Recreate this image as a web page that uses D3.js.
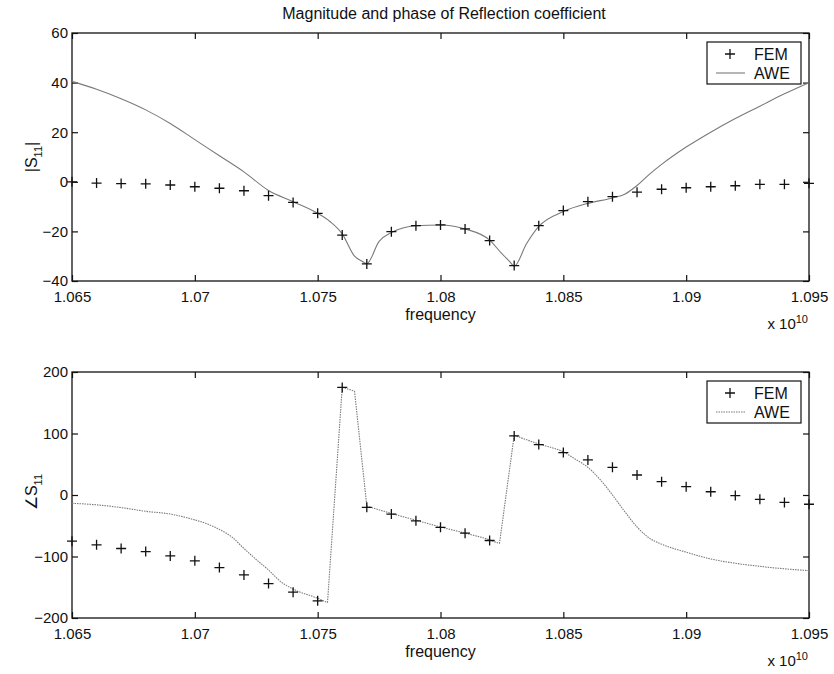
<!DOCTYPE html>
<html>
<head>
<meta charset="utf-8">
<script src="https://cdn.jsdelivr.net/npm/d3@7"></script>
<style>
  body { margin: 0; background: #fff; }
  text { font-family: "Liberation Sans", Arial, Helvetica, sans-serif; fill: #111; }
</style>
</head>
<body>
<div id="chart"></div>
<script>
/* frequency axis, in units of 1e10 Hz */
var xTicks = [1.065, 1.07, 1.075, 1.08, 1.085, 1.09, 1.095];
var magTicks = [-40, -20, 0, 20, 40, 60];
var phaseTicks = [-200, -100, 0, 100, 200];

/* FEM samples */
var femFreq = [1.065, 1.066, 1.067, 1.068, 1.069, 1.070, 1.071, 1.072, 1.073, 1.074,
    1.075, 1.076, 1.077, 1.078, 1.079, 1.080, 1.081, 1.082, 1.083, 1.084,
    1.085, 1.086, 1.087, 1.088, 1.089, 1.090, 1.091, 1.092, 1.093, 1.094, 1.095];
var femMag = [0, -0.5, -0.7, -0.8, -1.3, -2.0, -2.6, -3.6, -5.6, -8.3,
    -12.7, -21.5, -33.1, -20.1, -17.7, -17.4, -19.0, -23.7, -33.8, -17.7,
    -11.6, -8.0, -6.0, -4.2, -3.0, -2.4, -2.0, -1.6, -1.0, -1.0, -0.6];
var femPhase = [-75, -81, -87, -92, -99, -107, -118, -130, -144, -158,
    -172, 175, -20, -31, -42, -52.5, -62, -74, 96, 82,
    69, 57, 45, 32.5, 21.6, 13.5, 5.3, -1, -7, -12, -15];

/* AWE curve, magnitude */
var aweMagFreq = [1.065, 1.066, 1.067, 1.068, 1.069, 1.070, 1.071, 1.072, 1.073, 1.074,
    1.075, 1.0755, 1.076, 1.0765, 1.0768, 1.077, 1.0775, 1.078, 1.079, 1.080,
    1.081, 1.082, 1.0825, 1.0828, 1.083, 1.0835, 1.084, 1.085, 1.086, 1.087,
    1.0875, 1.088, 1.0885, 1.089, 1.090, 1.091, 1.092, 1.093, 1.094, 1.095];
var aweMag = [40.5, 37.3, 33.5, 29, 23.5, 17, 10.5, 4, -3.5, -8,
    -12.7, -16, -21, -30, -32, -33, -24, -20.5, -17.7, -17.4,
    -19, -23.5, -29, -32, -34, -25, -18, -12, -8.7, -6.5,
    -5, -1.5, 3, 7, 14, 20, 25.5, 30.5, 35.5, 40];

/* AWE curve, phase */
var awePhaseFreq = [1.065, 1.066, 1.067, 1.068, 1.069, 1.070, 1.0705, 1.071, 1.0715, 1.072,
    1.0725, 1.073, 1.0735, 1.074, 1.075, 1.0754, 1.076, 1.0765, 1.0770, 1.078,
    1.079, 1.080, 1.081, 1.082, 1.0824, 1.0830, 1.084, 1.085, 1.0855, 1.086,
    1.0865, 1.087, 1.0875, 1.088, 1.0885, 1.089, 1.090, 1.091, 1.092, 1.093,
    1.094, 1.095];
var awePhase = [-13.5, -16, -20.5, -26.5, -31, -40.5, -47, -56, -68, -87,
    -105, -122, -141, -153, -168, -175, 175, 169, -18, -30,
    -41, -52, -62, -73, -79, 97, 83, 70, 58, 45,
    25, 0, -27, -52, -70, -80, -93, -104, -111, -116,
    -120, -123];

var width = 834, height = 674;
var lineColor = "#7a7a7a";

var svg = d3.select("#chart").append("svg")
    .attr("width", width)
    .attr("height", height);

svg.append("text")
    .attr("x", 444).attr("y", 19)
    .attr("text-anchor", "middle")
    .style("font-size", "16px")
    .text("Magnitude and phase of Reflection coefficient");

function fmtFreq(d) { return String(+d.toFixed(3)); }
function fmtVal(d) { return d < 0 ? "\u2212" + Math.abs(d) : String(d); }

/* split a series into smooth runs and the straight wrap-around jumps between them */
function splitRuns(pts) {
    var runs = [], jumps = [], cur = [pts[0]];
    for (var i = 1; i < pts.length; i++) {
        if (Math.abs(pts[i][1] - pts[i - 1][1]) > 100) {
            runs.push(cur);
            jumps.push([pts[i - 1], pts[i]]);
            cur = [pts[i]];
        } else {
            cur.push(pts[i]);
        }
    }
    runs.push(cur);
    return runs.concat(jumps);
}

function drawPanel(p) {
    var x = d3.scaleLinear().domain([1.065, 1.095]).range([p.left, p.right]);
    var y = d3.scaleLinear().domain(p.yDomain).range([p.bottom, p.top]);
    var g = svg.append("g");

    // ticks on all four sides, pointing inward
    var bottomAxis = g.append("g").attr("transform", "translate(0," + p.bottom + ")")
        .call(d3.axisBottom(x).tickValues(xTicks).tickSize(-6).tickPadding(10).tickFormat(fmtFreq));
    var topAxis = g.append("g").attr("transform", "translate(0," + p.top + ")")
        .call(d3.axisTop(x).tickValues(xTicks).tickSize(-6).tickFormat(""));
    var leftAxis = g.append("g").attr("transform", "translate(" + p.left + ",0)")
        .call(d3.axisLeft(y).tickValues(p.yTicks).tickSize(-6).tickPadding(4).tickFormat(fmtVal));
    var rightAxis = g.append("g").attr("transform", "translate(" + p.right + ",0)")
        .call(d3.axisRight(y).tickValues(p.yTicks).tickSize(-6).tickFormat(""));

    [bottomAxis, topAxis, leftAxis, rightAxis].forEach(function (a) {
        a.select(".domain").remove();
        a.selectAll(".tick line").attr("stroke", "#111").attr("stroke-width", 1.2);
        a.selectAll("text").style("font-size", "15px").attr("fill", "#111");
    });

    g.append("rect")
        .attr("x", p.left).attr("y", p.top)
        .attr("width", p.right - p.left).attr("height", p.bottom - p.top)
        .attr("fill", "none").attr("stroke", "#111").attr("stroke-width", 1.3);

    // AWE line (smooth runs, straight jumps)
    var line = d3.line()
        .x(function (d) { return x(d[0]); })
        .y(function (d) { return y(d[1]); })
        .curve(d3.curveMonotoneX);
    var pieces = splitRuns(d3.zip(p.lineFreq, p.lineVals));
    g.selectAll(".awe").data(pieces).enter().append("path")
        .attr("class", "awe")
        .attr("d", line)
        .attr("fill", "none")
        .attr("stroke", lineColor)
        .attr("stroke-width", 1.1)
        .attr("stroke-dasharray", p.dash);

    // FEM markers
    var pts = d3.zip(femFreq, p.femVals);
    g.selectAll(".fem").data(pts).enter().append("path")
        .attr("class", "fem")
        .attr("d", function (d) {
            var cx = x(d[0]), cy = y(d[1]), r = 5;
            return "M" + (cx - r) + "," + cy + "H" + (cx + r) + "M" + cx + "," + (cy - r) + "V" + (cy + r);
        })
        .attr("stroke", "#111")
        .attr("stroke-width", 1.3);

    // axis labels
    g.append("text")
        .attr("x", (p.left + p.right) / 2 + 0).attr("y", p.bottom + 39)
        .attr("text-anchor", "middle")
        .style("font-size", "16px")
        .text("frequency");

    var ex = g.append("text")
        .attr("x", p.right - 1).attr("y", p.bottom + 48)
        .attr("text-anchor", "end")
        .style("font-size", "15px");
    ex.append("tspan").text("x 10");
    ex.append("tspan").attr("dy", -6).style("font-size", "11px").text("10");

    var yl = g.append("text")
        .attr("transform", "translate(37," + p.labelY + ") rotate(-90)")
        .attr("text-anchor", "middle")
        .style("font-size", "16px");
    yl.append("tspan").text(p.yLabel);
    yl.append("tspan").attr("dy", 5).style("font-size", "11px").text("11");
    if (p.yLabelEnd) {
        yl.append("tspan").attr("dy", -5).text(p.yLabelEnd);
    }

    // legend
    var lx = p.right - 102, ly = p.top + 9;
    var lg = g.append("g");
    lg.append("rect")
        .attr("x", lx).attr("y", ly).attr("width", 94).attr("height", 42)
        .attr("fill", "#fff").attr("stroke", "#111").attr("stroke-width", 1.2);
    lg.append("path")
        .attr("d", "M" + (lx + 18) + "," + (ly + 12) + "H" + (lx + 28) + "M" + (lx + 23) + "," + (ly + 7) + "V" + (ly + 17))
        .attr("stroke", "#111").attr("stroke-width", 1.3);
    lg.append("text").attr("x", lx + 47).attr("y", ly + 18).style("font-size", "16px").text("FEM");
    lg.append("line")
        .attr("x1", lx + 9).attr("x2", lx + 38).attr("y1", ly + 31).attr("y2", ly + 31)
        .attr("stroke", lineColor).attr("stroke-width", 1.1)
        .attr("stroke-dasharray", p.dash);
    lg.append("text").attr("x", lx + 47).attr("y", ly + 37).style("font-size", "16px").text("AWE");
}

drawPanel({
    left: 72, right: 809, top: 33, bottom: 281,
    yDomain: [-40, 60], yTicks: magTicks,
    femVals: femMag, lineFreq: aweMagFreq, lineVals: aweMag,
    dash: null, yLabel: "|S", yLabelEnd: "|", labelY: 157
});

drawPanel({
    left: 72, right: 809, top: 372, bottom: 618,
    yDomain: [-200, 200], yTicks: phaseTicks,
    femVals: femPhase, lineFreq: awePhaseFreq, lineVals: awePhase,
    dash: "1.5,1", yLabel: "\u2220S", yLabelEnd: null, labelY: 492
});
</script>
</body>
</html>
